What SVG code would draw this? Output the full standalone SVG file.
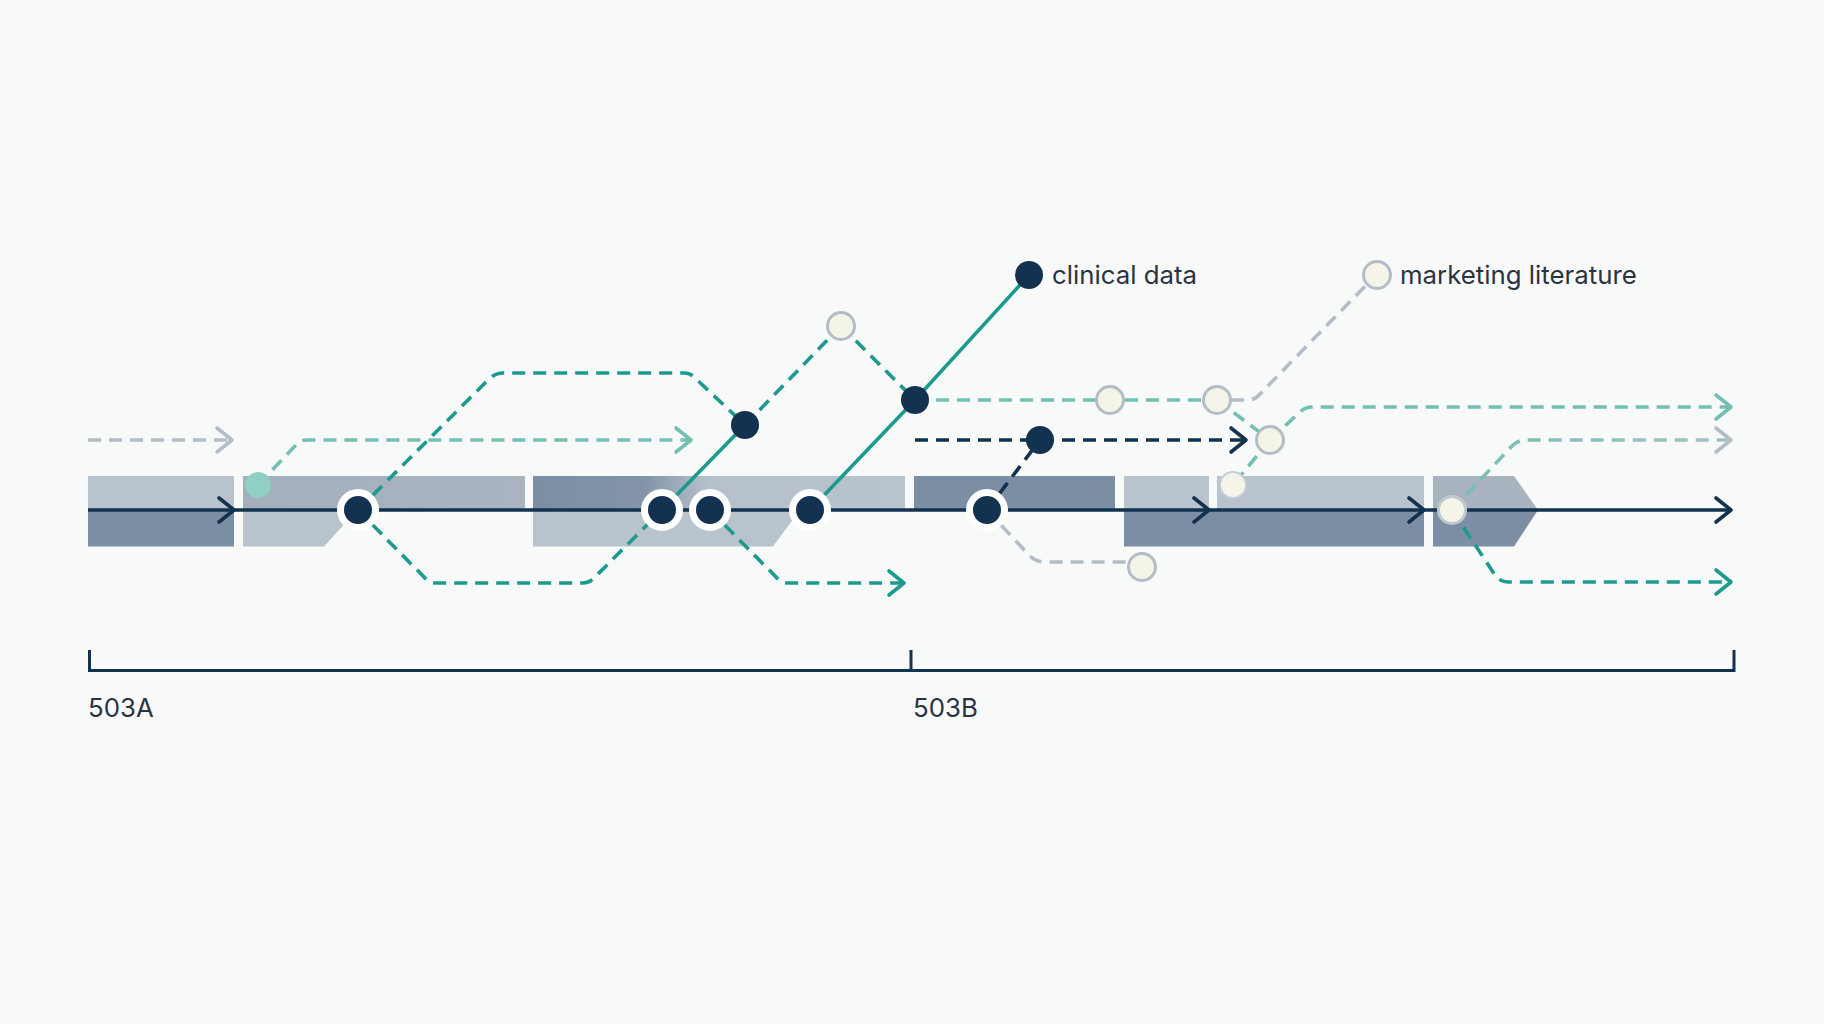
<svg xmlns="http://www.w3.org/2000/svg" width="1824" height="1024" viewBox="0 0 1824 1024">
<style>
.d{fill:none;stroke-width:3.6;stroke-dasharray:13 8;stroke-linecap:butt}
.s{fill:none;stroke-width:3.6}
.teal{stroke:#1c9a8e}
.lteal{stroke:#72bfb4}
.gray{stroke:#b3bdc7}
.navy{stroke:#12324f}
.ring{fill:#12324f;stroke:#ffffff;stroke-width:7}
.dot{fill:#12324f}
.cream{fill:#f4f4e8;stroke:#b3bdc7;stroke-width:3}
.lbl{font-family:Inter,"Liberation Sans",sans-serif;font-size:25.8px;fill:#2a3441}
.light{fill:#b9c3cd}
.mid{fill:#a8b3bf}
.dark{fill:#7b8ea3}
</style>
<defs>
<marker id="aNavy" viewBox="0 0 24 30" refX="18" refY="15" markerWidth="24" markerHeight="30" markerUnits="userSpaceOnUse" orient="auto"><path d="M3,3 L18,15 L3,27" fill="none" stroke="#12324f" stroke-width="3.6" stroke-linecap="round" stroke-linejoin="round"/></marker>
<marker id="aTeal" viewBox="0 0 24 30" refX="18" refY="15" markerWidth="24" markerHeight="30" markerUnits="userSpaceOnUse" orient="auto"><path d="M3,3 L18,15 L3,27" fill="none" stroke="#1c9a8e" stroke-width="3.6" stroke-linecap="round" stroke-linejoin="round"/></marker>
<marker id="aLteal" viewBox="0 0 24 30" refX="18" refY="15" markerWidth="24" markerHeight="30" markerUnits="userSpaceOnUse" orient="auto"><path d="M3,3 L18,15 L3,27" fill="none" stroke="#72bfb4" stroke-width="3.6" stroke-linecap="round" stroke-linejoin="round"/></marker>
<marker id="aGray" viewBox="0 0 24 30" refX="18" refY="15" markerWidth="24" markerHeight="30" markerUnits="userSpaceOnUse" orient="auto"><path d="M3,3 L18,15 L3,27" fill="none" stroke="#b3bdc7" stroke-width="3.6" stroke-linecap="round" stroke-linejoin="round"/></marker>
<linearGradient id="g3" x1="533" y1="0" x2="905" y2="0" gradientUnits="userSpaceOnUse">
<stop offset="0" stop-color="#7b8ea3"/><stop offset="0.3" stop-color="#8394a8"/><stop offset="0.47" stop-color="#b5c0ca"/><stop offset="1" stop-color="#b9c3cd"/>
</linearGradient>
<linearGradient id="g2" x1="243" y1="0" x2="525" y2="0" gradientUnits="userSpaceOnUse">
<stop offset="0" stop-color="#a3afbb"/><stop offset="1" stop-color="#a9b4c0"/>
</linearGradient>
<linearGradient id="gOut" x1="1452" y1="0" x2="1733" y2="0" gradientUnits="userSpaceOnUse">
<stop offset="0" stop-color="#72bfb4"/><stop offset="1" stop-color="#a9bfc4"/>
</linearGradient>
</defs>
<rect width="1824" height="1024" fill="#f8f9f9"/>
<g id="bars">
<rect class="light" x="88" y="476" width="146" height="34"/>
<rect class="dark" x="88" y="510" width="146" height="36.5"/>
<rect x="243" y="476" width="282" height="34" fill="url(#g2)"/>
<polygon class="light" points="243,510 357,510 324,546.5 243,546.5"/>
<rect x="533" y="476" width="372" height="34" fill="url(#g3)"/>
<polygon class="light" points="533,510 800,510 773,546.5 533,546.5"/>
<rect class="dark" x="914" y="476" width="201" height="34"/>
<rect class="light" x="1124" y="476" width="85" height="34"/>
<rect class="light" x="1217" y="476" width="207" height="34"/>
<rect class="dark" x="1124" y="510" width="300" height="36.5"/>
<polygon class="mid" points="1433,476 1514,476 1538,510 1433,510"/>
<polygon class="dark" points="1433,510 1538,510 1514,546.5 1433,546.5"/>
</g>
<g id="connectors">
<path class="d gray" d="M88,440 H232" marker-end="url(#aGray)"/>
<path class="d lteal" d="M258,485 L296,445 Q300,440 307,440 H691" marker-end="url(#aLteal)"/>
<path class="d teal" d="M358,510 L489,379 Q495,373 503,373 H684 Q690,373 694,377 L745,425"/>
<path class="d teal" d="M358,510 L424,577 Q429,583 436,583 H583 Q590,583 595,577 L662,510"/>
<path class="s teal" d="M662,510 L745,425"/>
<path class="d teal" d="M745,425 L841,326"/>
<path class="d teal" d="M841,326 L915,400"/>
<path class="s teal" d="M810,510 L915,400 L1029,275"/>
<path class="d teal" d="M710,510 L776,577 Q781,583 788,583 H904" marker-end="url(#aTeal)"/>
<path class="d lteal" d="M915,400 H1217"/>
<path class="d gray" d="M1231,400 H1248 Q1255,400 1260,394 L1376,275"/>
<path class="d lteal" d="M1217,400 L1270,440"/>
<path class="d lteal" d="M1270,440 L1300,412 Q1305,407 1312,407 H1731" marker-end="url(#aLteal)"/>
<path class="d lteal" d="M1270,440 L1233,485"/>
<path class="d navy" d="M915,440 H1246" marker-end="url(#aNavy)"/>
<path class="d navy" d="M987,510 L1040,440"/>
<path class="d gray" d="M987,510 L1028,554 Q1035,562 1045,562 H1130"/>
<path class="d" stroke="url(#gOut)" d="M1452,510 L1512,446 Q1518,440 1526,440 H1731" marker-end="url(#aGray)"/>
<path class="d teal" d="M1452,510 L1495,575 Q1500,582 1508,582 H1731" marker-end="url(#aTeal)"/>
<path class="s navy" d="M88,510 H234" marker-end="url(#aNavy)"/>
<path class="s navy" d="M234,510 H1209" marker-end="url(#aNavy)"/>
<path class="s navy" d="M1209,510 H1424" marker-end="url(#aNavy)"/>
<path class="s navy" d="M1424,510 H1731" marker-end="url(#aNavy)"/>
</g>
<g id="nodes">
<circle cx="258" cy="485" r="13" fill="#8fcfc4"/>
<circle class="ring" cx="358" cy="510" r="17.5"/>
<circle class="ring" cx="662" cy="510" r="17.5"/>
<circle class="ring" cx="710" cy="510" r="17.5"/>
<circle class="ring" cx="810" cy="510" r="17.5"/>
<circle class="ring" cx="987" cy="510" r="17.5"/>
<circle class="dot" cx="745" cy="425" r="14"/>
<circle class="dot" cx="915" cy="400" r="14"/>
<circle class="dot" cx="1040" cy="440" r="14"/>
<circle class="cream" cx="841" cy="326" r="13.5"/>
<circle class="cream" cx="1110" cy="400" r="13.5"/>
<circle class="cream" cx="1217" cy="400" r="13.5"/>
<circle class="cream" cx="1142" cy="567" r="13.5"/>
<circle class="cream" cx="1270" cy="440" r="13.5"/>
<circle cx="1233" cy="485" r="13" fill="#f4f4e8" stroke="#c6cdd4" stroke-width="2"/>
<circle cx="1452" cy="510" r="13.5" fill="#f4f4e8" stroke="#c0c8d0" stroke-width="3"/>
</g>
<g id="legend">
<circle class="dot" cx="1029" cy="275" r="14"/>
<text class="lbl" x="1052" y="284">clinical data</text>
<circle class="cream" cx="1377" cy="275" r="13.5"/>
<text class="lbl" x="1400" y="284">marketing literature</text>
</g>
<g id="axis">
<path d="M89.5,650 V670.5 H1734 V650 M911,650 V670.5" fill="none" stroke="#12324f" stroke-width="3"/>
<text class="lbl" x="88" y="717">503A</text>
<text class="lbl" x="913" y="717">503B</text>
</g>
</svg>
